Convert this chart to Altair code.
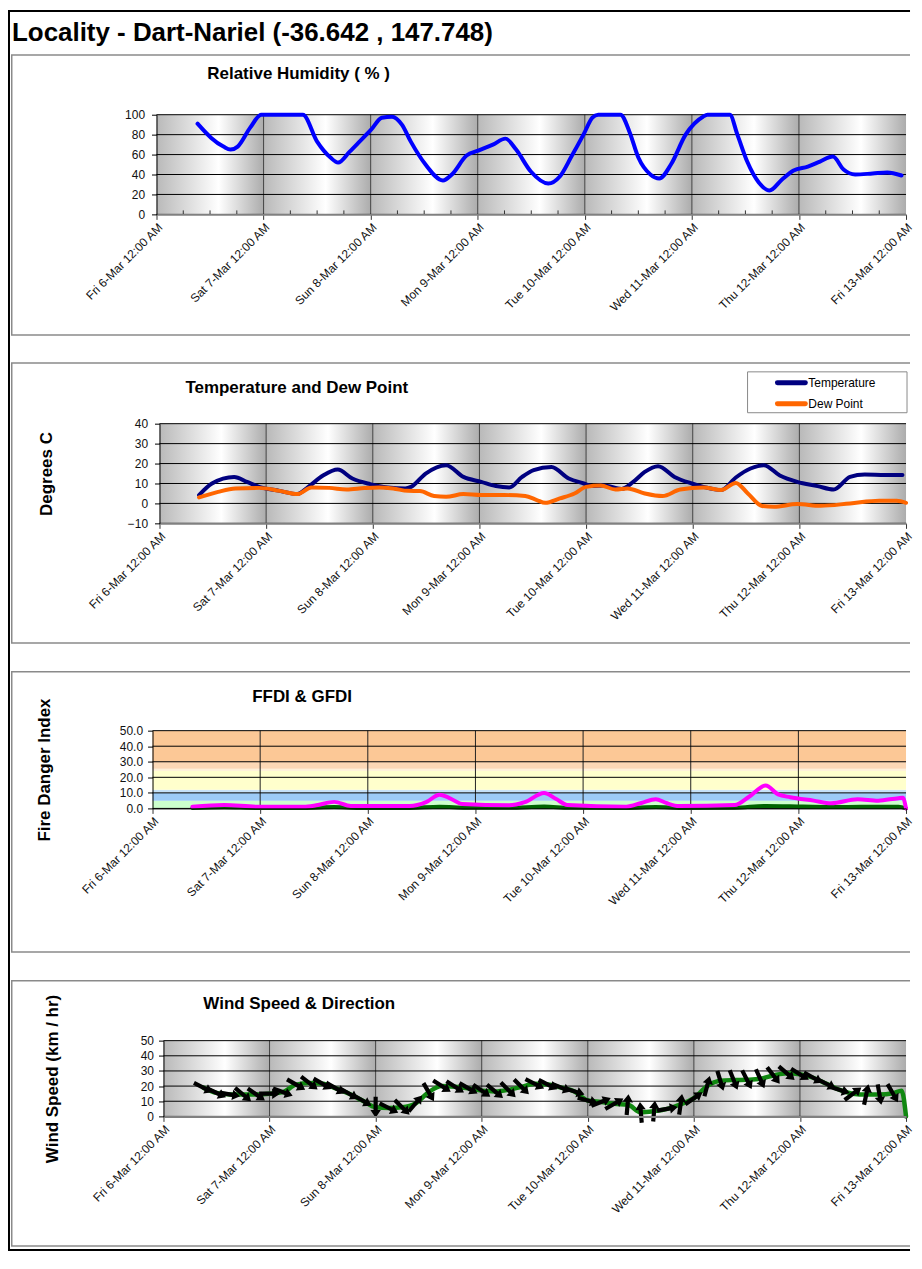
import json
import pandas as pd
import altair as alt

FONT = "Liberation Sans"

# ---------------- text ----------------
TITLE = "Locality - Dart-Nariel (-36.642 , 147.748)"
PANEL_TITLES = ["Relative Humidity ( % )", "Temperature and Dew Point", "FFDI & GFDI", "Wind Speed & Direction"]
Y_TITLES = ["Degrees C", "Fire Danger Index", "Wind Speed (km / hr)"]
SERIES_NAMES = ["Temperature", "Dew Point"]

DAY_HOURS = [0, 24, 48, 72, 96, 120, 144, 168]
DAY_LABELS = ["Fri 6-Mar 12:00 AM", "Sat 7-Mar 12:00 AM", "Sun 8-Mar 12:00 AM", "Mon 9-Mar 12:00 AM",
              "Tue 10-Mar 12:00 AM", "Wed 11-Mar 12:00 AM", "Thu 12-Mar 12:00 AM", "Fri 13-Mar 12:00 AM"]

RH_TICKS = [0, 20, 40, 60, 80, 100]
TEMP_TICKS = [-10, 0, 10, 20, 30, 40]
FDI_TICKS = [0, 10, 20, 30, 40, 50]
WIND_TICKS = [0, 10, 20, 30, 40, 50]

# ---------------- data (hours since Fri 6-Mar 00:00) ----------------
RH_T = [9.2, 12.2, 15, 16.6, 18.2, 21, 23.5, 32.8, 36, 39, 40.7, 43.3, 45.5, 48.1, 50.5, 52.8, 55, 57,
        60.3, 64.2, 66.2, 69.5, 72.1, 75.4, 78.2, 80.6, 83.9, 87.8, 90.4, 93, 95.7, 97.7, 99, 104, 106,
        108, 110.7, 112.7, 115.3, 118.6, 122.5, 123.5, 128.5, 130.2, 132.4, 135, 137.4, 140.2, 142.8,
        146, 148.7, 151.6, 154, 156.6, 160.5, 163.8, 167]
RH_V = [91, 77, 68, 65, 68, 87, 100, 100, 73, 57, 52, 63, 73, 85, 97, 98, 90, 73,
        50, 34, 40, 59, 64, 70, 76, 65, 43, 31, 38, 58, 80, 97, 100, 100, 83,
        57, 40, 36, 50, 80, 98, 100, 100, 80, 53, 32, 24, 35, 44,
        48, 53, 58, 45, 40, 41, 42, 39]

TEMP_T = [8.9, 11.8, 16.8, 19.7, 22.4, 27, 31, 33.5, 36.8, 40.1, 43.4, 47.4, 51.3, 55.3, 56.6, 59.9,
          64.5, 68.4, 72.4, 75.7, 78.7, 81.6, 84.2, 88.2, 92.1, 95.5, 97.4, 100, 104, 106.6, 109.2,
          112.2, 115.9, 119.8, 122.4, 126.4, 129.7, 133, 136, 139.6, 143.5, 148.1, 151.7, 155.4,
          158.7, 163.3, 167.2]
TEMP_V = [4.2, 10, 13.3, 10.8, 8.3, 6.3, 4.7, 8.3, 14, 17, 12.5, 9.7, 8, 7.5, 8.3, 15,
          19.2, 13.3, 10.8, 8.7, 8, 13.3, 16.7, 18.3, 12.5, 10, 8.7, 9, 7.3, 10.8, 15.8,
          18.7, 13.3, 10, 8.3, 6.7, 13, 17.5, 19.2, 14, 10.8, 8.7, 7, 13.3,
          14.5, 14.2, 14.2]

DEW_T = [8.9, 13.2, 17.1, 22.4, 27, 31, 34.2, 38.2, 42.1, 46.1, 49.4, 52.6, 55.9, 58.6, 61.8, 64.5,
         68.4, 72.4, 77.6, 82.3, 84.9, 86.8, 90.1, 93.4, 96, 99.3, 102.6, 105.3, 109.2, 113.2, 117.2,
         122.4, 126.4, 129.7, 132.4, 135.6, 138.3, 143.5, 148.8, 155.4, 162, 165.9, 168]
DEW_V = [3, 5.8, 7.5, 7.8, 6.3, 4.7, 8, 7.8, 7, 7.7, 8, 7.5, 6.3, 6.2, 3.7, 3.3,
         4.7, 4.2, 4.2, 3.7, 1.7, 0.3, 2.5, 5, 8.3, 9, 7, 7.5, 5, 3.7, 7,
         8, 6.7, 10.3, 5, -1.3, -1.7, -0.3, -1.2, 0, 1.3, 1.3, 0.3]

FFDI_T = [8.9, 16, 23.3, 33.7, 36.5, 40.5, 44.2, 57.3, 61, 64, 66, 69, 79.5, 83, 87.3, 90, 92.5,
          105.6, 109, 112.2, 114.5, 117.4, 129.8, 133, 136.7, 139.5, 142.2, 147.4, 151.3, 157.2,
          161.8, 166.3, 167.3, 168]
FFDI_V = [1.1, 2.2, 1.1, 1.1, 2, 4.2, 1.5, 1.5, 4, 8.8, 7, 2.9, 2, 4, 9.9, 6, 2.2,
          1.1, 3.5, 5.9, 3.5, 1.5, 2.2, 7.5, 14.7, 9, 7.2, 5, 3.3, 5.9,
          5, 6.6, 6.8, 0]

GFDI_T = [8.9, 16, 23.3, 33.7, 40.5, 46, 57.3, 64, 70, 79.5, 87.3, 93, 105.6, 112.2, 118, 129.8,
          136.7, 145, 152, 158, 166.3, 168]
GFDI_V = [0.3, 0.8, 0.3, 0.3, 0.9, 0.3, 0.3, 1.1, 0.5, 0.4, 1.2, 0.4, 0.3, 0.9, 0.3, 0.4,
          1.6, 1.2, 0.9, 1.0, 1.0, 0]

WIND_T = [9, 12, 15, 18, 21, 24, 27, 30, 33, 36, 39, 42, 45, 48, 51, 54, 57, 60, 63, 66, 69, 72,
          75, 78, 81, 84, 87, 90, 93, 96, 99, 102, 105, 108, 111, 114, 117, 120, 123, 126, 129,
          132, 135, 138, 141, 144, 147, 150, 153, 156, 159, 162, 165, 167, 168]
WIND_V = [19, 15.5, 14.5, 14.4, 14.5, 15, 16, 21, 22, 21.5, 18.5, 15, 10.5, 6, 5.5, 6, 8.5, 16,
          20, 19.5, 18.5, 17, 16.5, 17.5, 19.5, 21.5, 21, 19, 16.5, 10.5, 9.5, 8.3, 7.8, 2.7,
          3.5, 5, 8, 12, 20, 23.5, 24, 24.2, 24.8, 27, 28.5, 27.8, 25.5, 21.5, 17.5, 15, 14.4,
          14.4, 15.3, 17, 0]
# direction the arrow points (degrees clockwise from north), one per 3-hourly reading
WIND_DIR = [117, 115, 100, 130, 125, 90, 110, 120, 128, 120, 120, 120, 120, 180, 117, 135, 40, 150,
            123, 123, 120, 125, 130, 135, 135, 117, 117, 112, 108, 105, 68, 60, 5, 355, 5, 80, 8,
            55, 15, 163, 158, 153, 156, 143, 131, 122, 119, 117, 107, 53, 12, 170, 150]

BAND_NAMES = ["Low", "Moderate", "Moderate+", "High", "High+", "Very High-", "Very High"]
BAND_LO = [0, 5, 10, 12, 24, 25.5, 30]
BAND_HI = [5, 10, 12, 24, 25.5, 30, 50]

# ---------------- style ----------------
BAND_COLORS = ["#ccffcc", "#9dcbf7", "#c6e1f8", "#ffffcc", "#fff1d9", "#fcd8b6", "#fcc896"]
RH_COLOR = "#0000ff"
TEMP_COLOR = "#000080"
DEW_COLOR = "#ff6600"
FFDI_COLOR = "#ff00ff"
GFDI_COLOR = "#006400"
WIND_COLOR = "#108810"
BOX_GRAY = "#8a8a8a"
ARROW_PATH = "M-0.2,1L0.2,1L0.2,-0.25L0.5,-0.25L0,-1L-0.5,-0.25L-0.2,-0.25Z"

W = 756
RIGHT = 760
LABEL_EXPR = json.dumps(DAY_LABELS) + "[round(datum.value / 24)]"
MINOR_HOURS = [d + h for d in DAY_HOURS[:-1] for h in (6, 12, 18)]

DAY_GRADIENT = alt.LinearGradient(
    gradient="linear", x1=0, x2=1, y1=0, y2=0,
    stops=[alt.GradientStop(color="#b9b9b9", offset=0),
           alt.GradientStop(color="#ffffff", offset=0.58),
           alt.GradientStop(color="#acacac", offset=1)])

days_df = pd.DataFrame({"d0": DAY_HOURS[:-1], "d1": DAY_HOURS[1:]})
ONE = pd.DataFrame({"k": [0]})


def x_scale(L):
    return alt.Scale(domain=[0, 168], range=[L, W], nice=False, zero=False)


def x_axis(domain_color, domain_width):
    return alt.Axis(values=DAY_HOURS, labelExpr=LABEL_EXPR, labelAngle=-45, labelAlign="right",
                    labelBaseline="top", labelFont=FONT, labelFontSize=12, labelColor="#111111",
                    labelPadding=2, labelFlush=False, labelOverlap=False, tickSize=5, tickColor="#333333",
                    domainColor=domain_color, domainWidth=domain_width, grid=False, title=None, zindex=1)


def y_axis(ticks, L, H, pad, fmt=None, title=None, title_x=0):
    kw = dict(values=ticks, labelFont=FONT, labelFontSize=12, labelColor="#111111", tickSize=5,
              tickColor="black", domainColor="black", grid=False, offset=-L, zindex=1,
              labelPadding=pad, labelFlush=False, labelOverlap=False)
    if fmt:
        kw["format"] = fmt
    if title:
        kw.update(title=title, titleX=title_x, titleY=H / 2, titleAngle=-90, titleAlign="center",
                  titleBaseline="middle", titleFont=FONT, titleFontSize=17, titleFontWeight="bold",
                  titleColor="black")
    else:
        kw["title"] = None
    return alt.Axis(**kw)


def bar(x1, x2, y1, y2, color):
    """thin filled rectangle used for frame / box lines (exact bounds, no stroke)"""
    return alt.Chart(ONE).mark_rect(color=color, strokeWidth=0).encode(
        x=alt.value(x1), x2=alt.value(x2), y=alt.value(y1), y2=alt.value(y2))


def label(text, x, y, size, bold=True):
    return alt.Chart(pd.DataFrame({"s": [text]})).mark_text(
        font=FONT, fontSize=size, fontWeight="bold" if bold else "normal", align="left",
        baseline="middle", color="black").encode(x=alt.value(x), y=alt.value(y), text="s:N")


def frame_left(y1, y2):
    return bar(-145, -143, y1, y2, "black")


def box(top, bottom):
    return [bar(-142, RIGHT, top - 0.75, top + 0.75, BOX_GRAY),
            bar(-142, RIGHT, bottom - 0.75, bottom + 0.75, BOX_GRAY),
            bar(-142, -140.5, top, bottom, BOX_GRAY)]


def gradient_bg(xs, H, xax):
    return alt.Chart(days_df).mark_rect(fill=DAY_GRADIENT, strokeWidth=0).encode(
        x=alt.X("d0:Q", scale=xs, axis=xax), x2="d1:Q", y=alt.value(0), y2=alt.value(H))


def xgrid(xs, H, xax, color="#404040"):
    return alt.Chart(pd.DataFrame({"h": DAY_HOURS[1:-1]})).mark_rule(color=color, strokeWidth=1).encode(
        x=alt.X("h:Q", scale=xs, axis=xax), y=alt.value(0), y2=alt.value(H))


def ygrid(ticks, ys, L, yax):
    return alt.Chart(pd.DataFrame({"v": ticks})).mark_rule(color="black", strokeWidth=1).encode(
        y=alt.Y("v:Q", scale=ys, axis=yax), x=alt.value(L), x2=alt.value(W))


def series(t, v, xs, ys, xax, yax, color, width=4):
    return alt.Chart(pd.DataFrame({"t": t, "v": v})).mark_line(
        color=color, strokeWidth=width, interpolate="monotone", strokeCap="round", strokeJoin="round").encode(
        x=alt.X("t:Q", scale=xs, axis=xax), y=alt.Y("v:Q", scale=ys, axis=yax))


# ---------------- panel 1: relative humidity ----------------
L1, H1 = 4, 100
xs1 = x_scale(L1)
ys1 = alt.Scale(domain=[0, 100], nice=False, zero=False)
xa1 = x_axis("#808080", 2)
ya1 = y_axis(RH_TICKS, L1, H1, 7)
minor = alt.Chart(pd.DataFrame({"h": MINOR_HOURS})).mark_rule(color="#333333", strokeWidth=1).encode(
    x=alt.X("h:Q", scale=xs1, axis=xa1), y=alt.value(H1 - 4), y2=alt.value(H1))
p1 = alt.layer(
    gradient_bg(xs1, H1, xa1),
    xgrid(xs1, H1, xa1),
    ygrid(RH_TICKS, ys1, L1, ya1),
    minor,
    series(RH_T, RH_V, xs1, ys1, xa1, ya1, RH_COLOR),
    bar(-145, RIGHT, -105, -103, "black"),
    frame_left(-105, 235),
    *box(-60, 221),
    label(TITLE, -141, -82, 26),
    label(PANEL_TITLES[0], 55, -41, 17),
).properties(width=W, height=H1)

# ---------------- panel 2: temperature and dew point ----------------
L2, H2 = 7, 100
xs2 = x_scale(L2)
ys2 = alt.Scale(domain=[-10, 40], nice=False, zero=False)
xa2 = x_axis("#808080", 2)
ya2 = y_axis(TEMP_TICKS, L2, H2, 7, title=Y_TITLES[0], title_x=-113)
legend_box = alt.Chart(ONE).mark_rect(fill="white", stroke=BOX_GRAY, strokeWidth=1).encode(
    x=alt.value(597), x2=alt.value(757), y=alt.value(-52), y2=alt.value(-11))
legend_line = lambda y, c: alt.Chart(ONE).mark_rule(color=c, strokeWidth=5, strokeCap="round").encode(
    x=alt.value(627), x2=alt.value(655), y=alt.value(y))
p2 = alt.layer(
    gradient_bg(xs2, H2, xa2),
    xgrid(xs2, H2, xa2),
    ygrid(TEMP_TICKS, ys2, L2, ya2),
    series(TEMP_T, TEMP_V, xs2, ys2, xa2, ya2, TEMP_COLOR),
    series(DEW_T, DEW_V, xs2, ys2, xa2, ya2, DEW_COLOR),
    frame_left(-75, 234),
    *box(-61, 220),
    label(PANEL_TITLES[1], 33, -36, 17),
    legend_box,
    legend_line(-41, TEMP_COLOR),
    label(SERIES_NAMES[0], 658, -41, 12, bold=False),
    legend_line(-20, DEW_COLOR),
    label(SERIES_NAMES[1], 658, -20, 12, bold=False),
).properties(width=W, height=H2)

# ---------------- panel 3: FFDI & GFDI ----------------
L3, H3 = 0, 78
xs3 = x_scale(L3)
ys3 = alt.Scale(domain=[0, 50], nice=False, zero=False)
xa3 = x_axis("black", 1)
ya3 = y_axis(FDI_TICKS, L3, H3, 5, fmt=".1f", title=Y_TITLES[1], title_x=-108)
bands = alt.Chart(pd.DataFrame({"lo": BAND_LO, "hi": BAND_HI, "band": BAND_NAMES})).mark_rect(strokeWidth=0).encode(
    y=alt.Y("lo:Q", scale=ys3, axis=ya3), y2="hi:Q", x=alt.value(L3), x2=alt.value(W),
    color=alt.Color("band:N", scale=alt.Scale(domain=BAND_NAMES, range=BAND_COLORS), legend=None))
p3 = alt.layer(
    bands,
    xgrid(xs3, H3, xa3, color="#222222"),
    ygrid(FDI_TICKS, ys3, L3, ya3),
    series(GFDI_T, GFDI_V, xs3, ys3, xa3, ya3, GFDI_COLOR),
    series(FFDI_T, FFDI_V, xs3, ys3, xa3, ya3, FFDI_COLOR),
    frame_left(-74, 236),
    *box(-59, 222),
    label(PANEL_TITLES[2], 100, -34, 17),
).properties(width=W, height=H3)

# ---------------- panel 4: wind ----------------
L4, H4 = 11, 76
xs4 = x_scale(L4)
ys4 = alt.Scale(domain=[0, 50], nice=False, zero=False)
xa4 = x_axis("#808080", 2)
ya4 = y_axis(WIND_TICKS, L4, H4, 5, title=Y_TITLES[2], title_x=-111)
arrows = alt.Chart(pd.DataFrame({"t": WIND_T[:len(WIND_DIR)], "v": WIND_V[:len(WIND_DIR)], "dir": WIND_DIR})).mark_point(
    shape=ARROW_PATH, filled=True, color="black", opacity=1, size=440, strokeWidth=0).encode(
    x=alt.X("t:Q", scale=xs4, axis=xa4), y=alt.Y("v:Q", scale=ys4, axis=ya4),
    angle=alt.Angle("dir:Q", scale=None))
p4 = alt.layer(
    gradient_bg(xs4, H4, xa4),
    xgrid(xs4, H4, xa4),
    ygrid(WIND_TICKS, ys4, L4, ya4),
    series(WIND_T, WIND_V, xs4, ys4, xa4, ya4, WIND_COLOR, 4.5),
    arrows,
    frame_left(-75, 211),
    bar(-145, RIGHT, 209, 211, "black"),
    *box(-60, 206),
    label(PANEL_TITLES[3], 51, -37, 17),
).properties(width=W, height=H4)

chart = alt.vconcat(p1, p2, p3, p4, spacing=0).properties(
    padding=0, background="white"
).configure(font=FONT).configure_view(strokeWidth=0)

chart.save("out.html", embed_options={"renderer": "svg", "actions": False})
